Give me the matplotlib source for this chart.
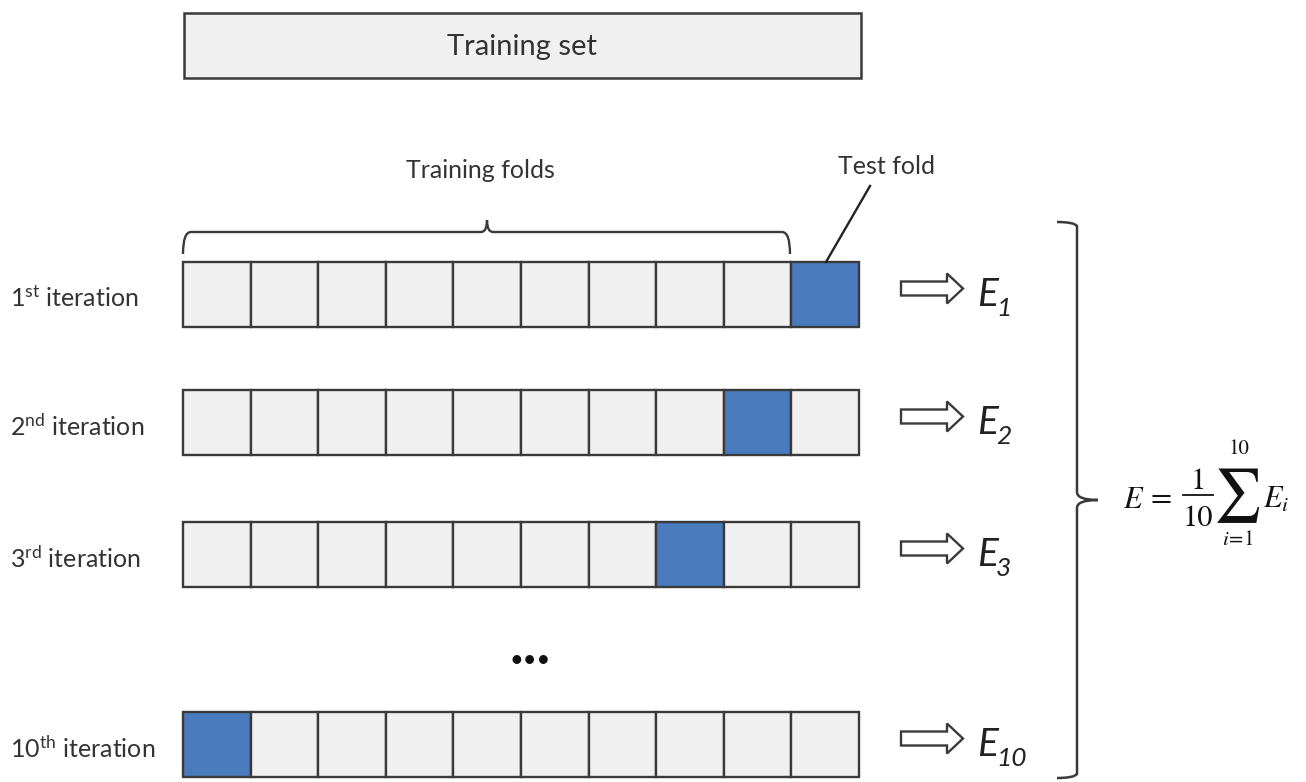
import matplotlib
matplotlib.use('Agg')
import matplotlib.pyplot as plt
import matplotlib.patches as mpatches
from matplotlib.path import Path

plt.rcParams['font.family'] = ['Lato', 'DejaVu Sans']
plt.rcParams['mathtext.fontset'] = 'custom'
plt.rcParams['mathtext.rm'] = 'Lato'
plt.rcParams['mathtext.it'] = 'Lato:italic'

# data
N_FOLDS = 10
ITER_LABELS = [r'1$^{\mathrm{st}}$ iteration', r'2$^{\mathrm{nd}}$ iteration',
               r'3$^{\mathrm{rd}}$ iteration', r'10$^{\mathrm{th}}$ iteration']
TEST_FOLD = [9, 8, 7, 0]
ERR_SUBS = ['1', '2', '3', '10']

# layout (pixel coords)
ROW_TOP = [262, 390, 522, 712]
ROW_H = 65
X0, X1 = 183, 859
CELL_W = (X1 - X0) / N_FOLDS

TEXT = '#333333'
EDGE = '#3a3a3a'
LIGHT = '#f0f0f0'
BLUE = '#4a7bbd'
SERIF = 'STIXGeneral'

fig = plt.figure(figsize=(13.06, 7.82), dpi=100)
ax = fig.add_axes([0, 0, 1, 1])
ax.set_xlim(0, 1306)
ax.set_ylim(782, 0)
ax.axis('off')

# training set box
ax.add_patch(mpatches.Rectangle((184, 13), 677, 65, fc=LIGHT, ec=EDGE, lw=1.8))
ax.text(522, 47, 'Training set', ha='center', va='center', fontsize=21, color=TEXT)

# fold rows
for top, lab, test, sub in zip(ROW_TOP, ITER_LABELS, TEST_FOLD, ERR_SUBS):
    for k in range(N_FOLDS):
        fc = BLUE if k == test else LIGHT
        ax.add_patch(mpatches.Rectangle((X0 + k * CELL_W, top), CELL_W, ROW_H,
                                        fc=fc, ec=EDGE, lw=1.7))
    yc = top + ROW_H / 2
    ax.text(10, yc + 4, lab, ha='left', va='center', fontsize=18, color=TEXT)
    ax.add_patch(mpatches.FancyArrow(901, yc - 6, 46, 0, width=14, head_width=30,
                                     head_length=16, fc='white', ec=EDGE, lw=1.7))
    ax.text(977, yc + 12, 'E', ha='left', va='baseline', fontsize=28,
            style='italic', color='#222222')
    ax.text(996, yc + 22, sub, ha='left', va='baseline', fontsize=19,
            style='italic', color='#222222')

# brace over training folds
bx0, bx1, bmid, by = 183, 790, 487, 232
verts = [(bx0, 254), (bx0, by), (bx0 + 8, by),
         (bmid - 6, by), (bmid, by), (bmid, by - 12),
         (bmid, by), (bmid + 6, by),
         (bx1 - 8, by), (bx1, by), (bx1, 254)]
codes = [Path.MOVETO, Path.CURVE3, Path.CURVE3,
         Path.LINETO, Path.CURVE3, Path.CURVE3,
         Path.CURVE3, Path.CURVE3,
         Path.LINETO, Path.CURVE3, Path.CURVE3]
ax.add_patch(mpatches.PathPatch(Path(verts, codes), fc='none', ec=EDGE, lw=1.7))
ax.text(480, 170, 'Training folds', ha='center', va='center', fontsize=18, color=TEXT)

# test fold pointer
ax.text(886, 167, 'Test fold', ha='center', va='center', fontsize=18, color=TEXT)
ax.plot([870, 826], [186, 262], color='#222222', lw=1.7)

# ellipsis
ax.text(530, 660, '•••', ha='center', va='center', fontsize=17, color='#111111')

# big bracket on the right
rx, ry0, ry1, rtip = 1077, 222, 778, 500
verts = [(1057, ry0), (rx - 3, ry0), (rx, ry0 + 4),
         (rx, rtip - 8), (rx, rtip), (1098, rtip),
         (rx, rtip), (rx, rtip + 8),
         (rx, ry1 - 4), (rx - 3, ry1), (1057, ry1)]
codes = [Path.MOVETO, Path.CURVE3, Path.CURVE3,
         Path.LINETO, Path.CURVE3, Path.CURVE3,
         Path.CURVE3, Path.CURVE3,
         Path.LINETO, Path.CURVE3, Path.CURVE3]
ax.add_patch(mpatches.PathPatch(Path(verts, codes), fc='none', ec=EDGE, lw=1.8))

# averaged error formula
fk = dict(family=SERIF, color='#111111')
ax.text(1123, 508, 'E', ha='left', va='baseline', fontsize=22, style='italic', **fk)
ax.text(1161, 500, '=', ha='center', va='center', fontsize=22, **fk)
ax.text(1198, 489, '1', ha='center', va='baseline', fontsize=22, **fk)
ax.plot([1183, 1213], [495, 495], color='#111111', lw=1.3)
ax.text(1198, 526, '10', ha='center', va='baseline', fontsize=22, **fk)
ax.text(1238, 496, '\u2211', ha='center', va='center', fontsize=38, **fk)
ax.text(1239, 454, '10', ha='center', va='baseline', fontsize=15, **fk)
ax.text(1238, 545, r'$i\!=\!1$', ha='center', va='baseline', fontsize=15,
        math_fontfamily='stix', color='#111111')
ax.text(1263, 508, r'$E_i$', ha='left', va='baseline', fontsize=22,
        math_fontfamily='stix', color='#111111')

fig.savefig('out.png', dpi=100)
